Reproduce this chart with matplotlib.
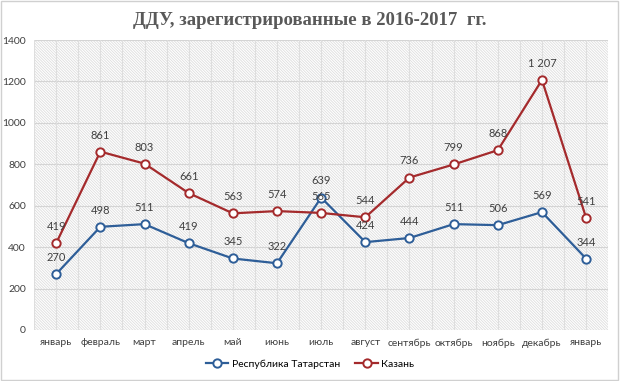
import matplotlib
matplotlib.use("Agg")
from matplotlib import pyplot as plt
from matplotlib.lines import Line2D
from matplotlib.patches import Rectangle
import numpy as np

months = ["январь", "февраль", "март", "апрель", "май", "июнь", "июль",
          "август", "сентябрь", "октябрь", "ноябрь", "декабрь", "январь"]
tatarstan = [270, 498, 511, 419, 345, 322, 639, 424, 444, 511, 506, 569, 344]
kazan = [419, 861, 803, 661, 563, 574, 565, 544, 736, 799, 868, 1207, 541]
yticks = [0, 200, 400, 600, 800, 1000, 1200, 1400]

blue = "#2E5E98"
red = "#A42A2C"

plt.rcParams["font.family"] = ["Lato", "DejaVu Sans"]
plt.rcParams["hatch.linewidth"] = 0.6

fig = plt.figure(figsize=(6.2, 3.81), dpi=100)
ax = fig.add_axes([0.055, 0.134, 0.926, 0.761])

x = np.arange(len(months))
ax.set_xlim(-0.5, len(months) - 0.5)
ax.set_ylim(0, 1400)

# hatched plot background
ax.add_patch(Rectangle((0, 0), 1, 1, transform=ax.transAxes, facecolor="white",
                       edgecolor="#DDDDDD", hatch="\\" * 12, lw=0, zorder=0))

for v in yticks:
    ax.axhline(v, color="#D4D4D4", lw=0.8, zorder=1)
for xv in np.arange(-0.5, len(months), 0.5):
    ax.axvline(xv, color="#DEDEDE", lw=0.8, zorder=1)

def fmt(v):
    return f"{v:,}".replace(",", " ")

ax.plot(x, tatarstan, color=blue, lw=1.6, marker="o", ms=6,
        mfc="white", mec=blue, mew=1.4, zorder=3)
ax.plot(x, kazan, color=red, lw=1.6, marker="o", ms=6,
        mfc="white", mec=red, mew=1.4, zorder=3)

for xi, v in zip(x, tatarstan):
    ax.annotate(fmt(v), (xi, v), xytext=(0, 8), textcoords="offset points",
                ha="center", va="bottom", fontsize=8, color="#404040", zorder=4)
for xi, v in zip(x, kazan):
    ax.annotate(fmt(v), (xi, v), xytext=(0, 8), textcoords="offset points",
                ha="center", va="bottom", fontsize=8, color="#404040", zorder=4)

ax.set_xticks(x)
ax.set_xticklabels(months, fontsize=7.5, color="#404040")
ax.set_yticks(yticks)
ax.set_yticklabels([str(v) for v in yticks], fontsize=7.5, color="#404040")
ax.tick_params(length=0, pad=6)
for s in ax.spines.values():
    s.set_visible(False)

fig.text(0.5, 0.945, "ДДУ, зарегистрированные в 2016-2017  гг.",
         ha="center", va="center", fontsize=13.5, fontweight="bold",
         family="Liberation Serif", color="#595959")

handles = [
    Line2D([], [], color=blue, lw=1.6, marker="o", ms=6, mfc="white", mec=blue, mew=1.4),
    Line2D([], [], color=red, lw=1.6, marker="o", ms=6, mfc="white", mec=red, mew=1.4),
]
fig.legend(handles, ["Республика Татарстан", "Казань"], loc="center",
           bbox_to_anchor=(0.5, 0.045), ncol=2, frameon=False, fontsize=7.5,
           handlelength=2.2, handletextpad=0.3, columnspacing=1.5)

fig.patches.append(Rectangle((0.002, 0.003), 0.995, 0.994, transform=fig.transFigure,
                             fill=False, ec="#D0D0D0", lw=1))

fig.savefig("out.png", dpi=100)
